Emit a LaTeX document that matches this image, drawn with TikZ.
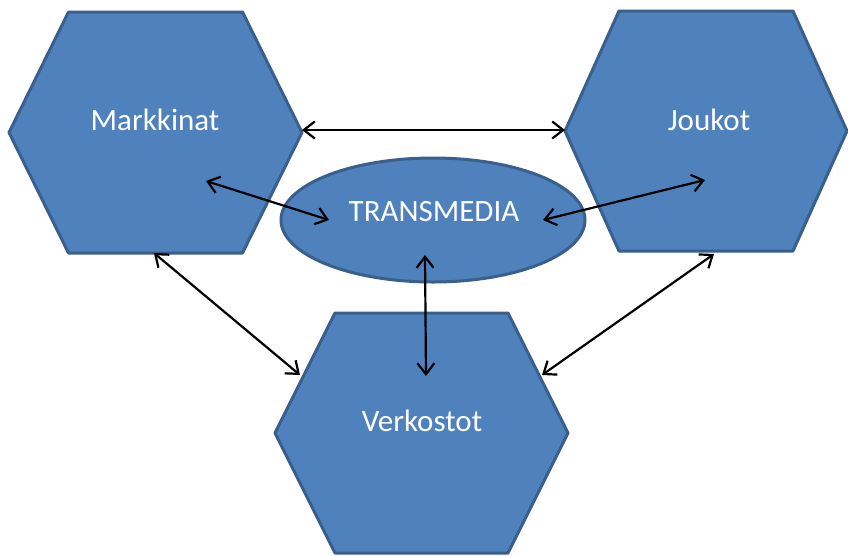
\documentclass[tikz,border=0pt]{standalone}
\usepackage{fontspec}
\setmainfont{Carlito}
\usetikzlibrary{arrows.meta}
\definecolor{hexfill}{HTML}{4F81BD}
\definecolor{hexedge}{HTML}{3A5F8C}
\tikzset{
  shapebody/.style={fill=hexfill, draw=hexedge, line width=3pt, line join=round},
  lbl/.style={text=white, font=\fontsize{31}{36}\selectfont, inner sep=0pt},
  link/.style={line width=2.2pt, {Straight Barb[length=11pt,width=17pt,line width=2.2pt]}-{Straight Barb[length=11pt,width=17pt,line width=2.2pt]}}
}
% hexagon with flat top/bottom: centre (#1,#2), half width #3, half height #4, half top edge #5
\newcommand\hexpath[5]{%
  \path[shapebody] (#1-#3,#2) -- (#1-#5,#2-#4) -- (#1+#5,#2-#4) -- (#1+#3,#2)
    -- (#1+#5,#2+#4) -- (#1-#5,#2+#4) -- cycle;}
\begin{document}
\begin{tikzpicture}[x=1pt,y=-1pt]
  \useasboundingbox (0,0) rectangle (848,555);
  \clip (0,0) rectangle (848,555);
  \fill[white] (0,0) rectangle (848,555);

  % the three hexagons
  \hexpath{155.5}{132.5}{146.5}{120.5}{87}
  \hexpath{706}{131}{141}{120}{87}
  \hexpath{421.5}{433}{146.5}{120}{86.5}

  % the central ellipse
  \path[shapebody] (433,220) ellipse [x radius=152, y radius=62];

  % labels
  \node[lbl] (mark) at (155,120) {Markkinat};
  \node[lbl] (jouk) at (709,120) {Joukot};
  \node[lbl] (verk) at (422,421) {Verkostot};
  \node[lbl] (trans) at (434,212) {TRANSMEDIA};

  % connector end points
  \coordinate (mR) at (302,130);
  \coordinate (jL) at (565,130);
  \coordinate (mIn) at (206,181);
  \coordinate (tL) at (329,220);
  \coordinate (jIn) at (705,180);
  \coordinate (tR) at (543,220);
  \coordinate (tB) at (425,255);
  \coordinate (vT) at (426,376);
  \coordinate (mB) at (154,253);
  \coordinate (vL) at (300,375);
  \coordinate (jB) at (714,254);
  \coordinate (vR) at (542,375);

  % double-headed connectors
  \draw[link] (mR) -- (jL);
  \draw[link] (mIn) -- (tL);
  \draw[link] (jIn) -- (tR);
  \draw[link] (tB) -- (vT);
  \draw[link] (mB) -- (vL);
  \draw[link] (jB) -- (vR);
\end{tikzpicture}
\end{document}
